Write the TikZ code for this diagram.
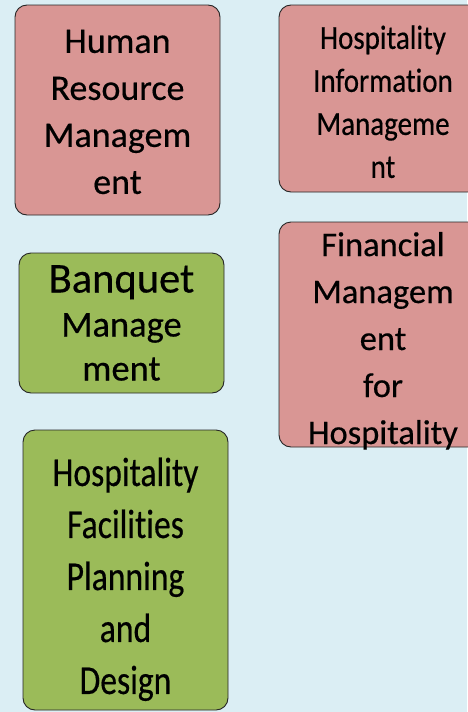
\documentclass[tikz,border=0pt]{standalone}
\usepackage{fontspec}
\setmainfont{Carlito}[Ligatures=NoCommon,FakeBold=0.4]
\newfontfamily\tightfont{Carlito}[FakeStretch=0.86,Ligatures=NoCommon,FakeBold=0.4]
\newfontfamily\narrowfont{Carlito}[FakeStretch=0.82,Ligatures=NoCommon,FakeBold=0.4]
\newcommand\toplift[1]{\rule{0pt}{#1}}
\newcommand\nodepth[1]{\raisebox{0pt}[\height][0pt]{#1}}
\definecolor{bgblue}{HTML}{DBEEF4}
\definecolor{corepink}{HTML}{D99694}
\definecolor{electivegreen}{HTML}{9BBB59}
\begin{document}
\begin{tikzpicture}[x=1pt,y=-1pt,
  course/.style={draw=black!85,line width=0.9pt,rounded corners=12pt,align=center,inner sep=0pt},
  core/.style={course,fill=corepink},
  elective/.style={course,fill=electivegreen}]
  \fill[bgblue] (0,0) rectangle (467,712);
  \useasboundingbox (0,0) rectangle (467,712);
  \node (hrm) [core,minimum width=205pt,minimum height=210pt,
    font=\fontsize{36}{47}\selectfont] at (117.5,110)
    {\toplift{27pt}Human\\Resource\\Managem\\ent};
  \node (him) [core,minimum width=208pt,minimum height=187pt,
    font=\tightfont\fontsize{33.7}{43}\selectfont] at (383,98.5)
    {\toplift{30pt}Hospitality\\Information\\Manageme\\nt};
  \node (bqt) [elective,minimum width=205pt,minimum height=140pt,
    font=\fontsize{36.5}{44}\selectfont] at (121.5,323)
    {{\fontsize{42.5}{44}\selectfont Banquet}\\Manage\\ment};
  \node (fin) [core,minimum width=208pt,minimum height=225pt,
    font=\fontsize{34.5}{47}\selectfont] at (383,334.5)
    {\toplift{31pt}Financial\\Managem\\ent\\for\\\nodepth{Hospitality}};
  \node (fac) [elective,minimum width=205pt,minimum height=280pt,
    font=\narrowfont\fontsize{41}{52}\selectfont] at (125.5,570)
    {\toplift{47pt}Hospitality\\Facilities\\Planning\\and\\Design};
\end{tikzpicture}
\end{document}
